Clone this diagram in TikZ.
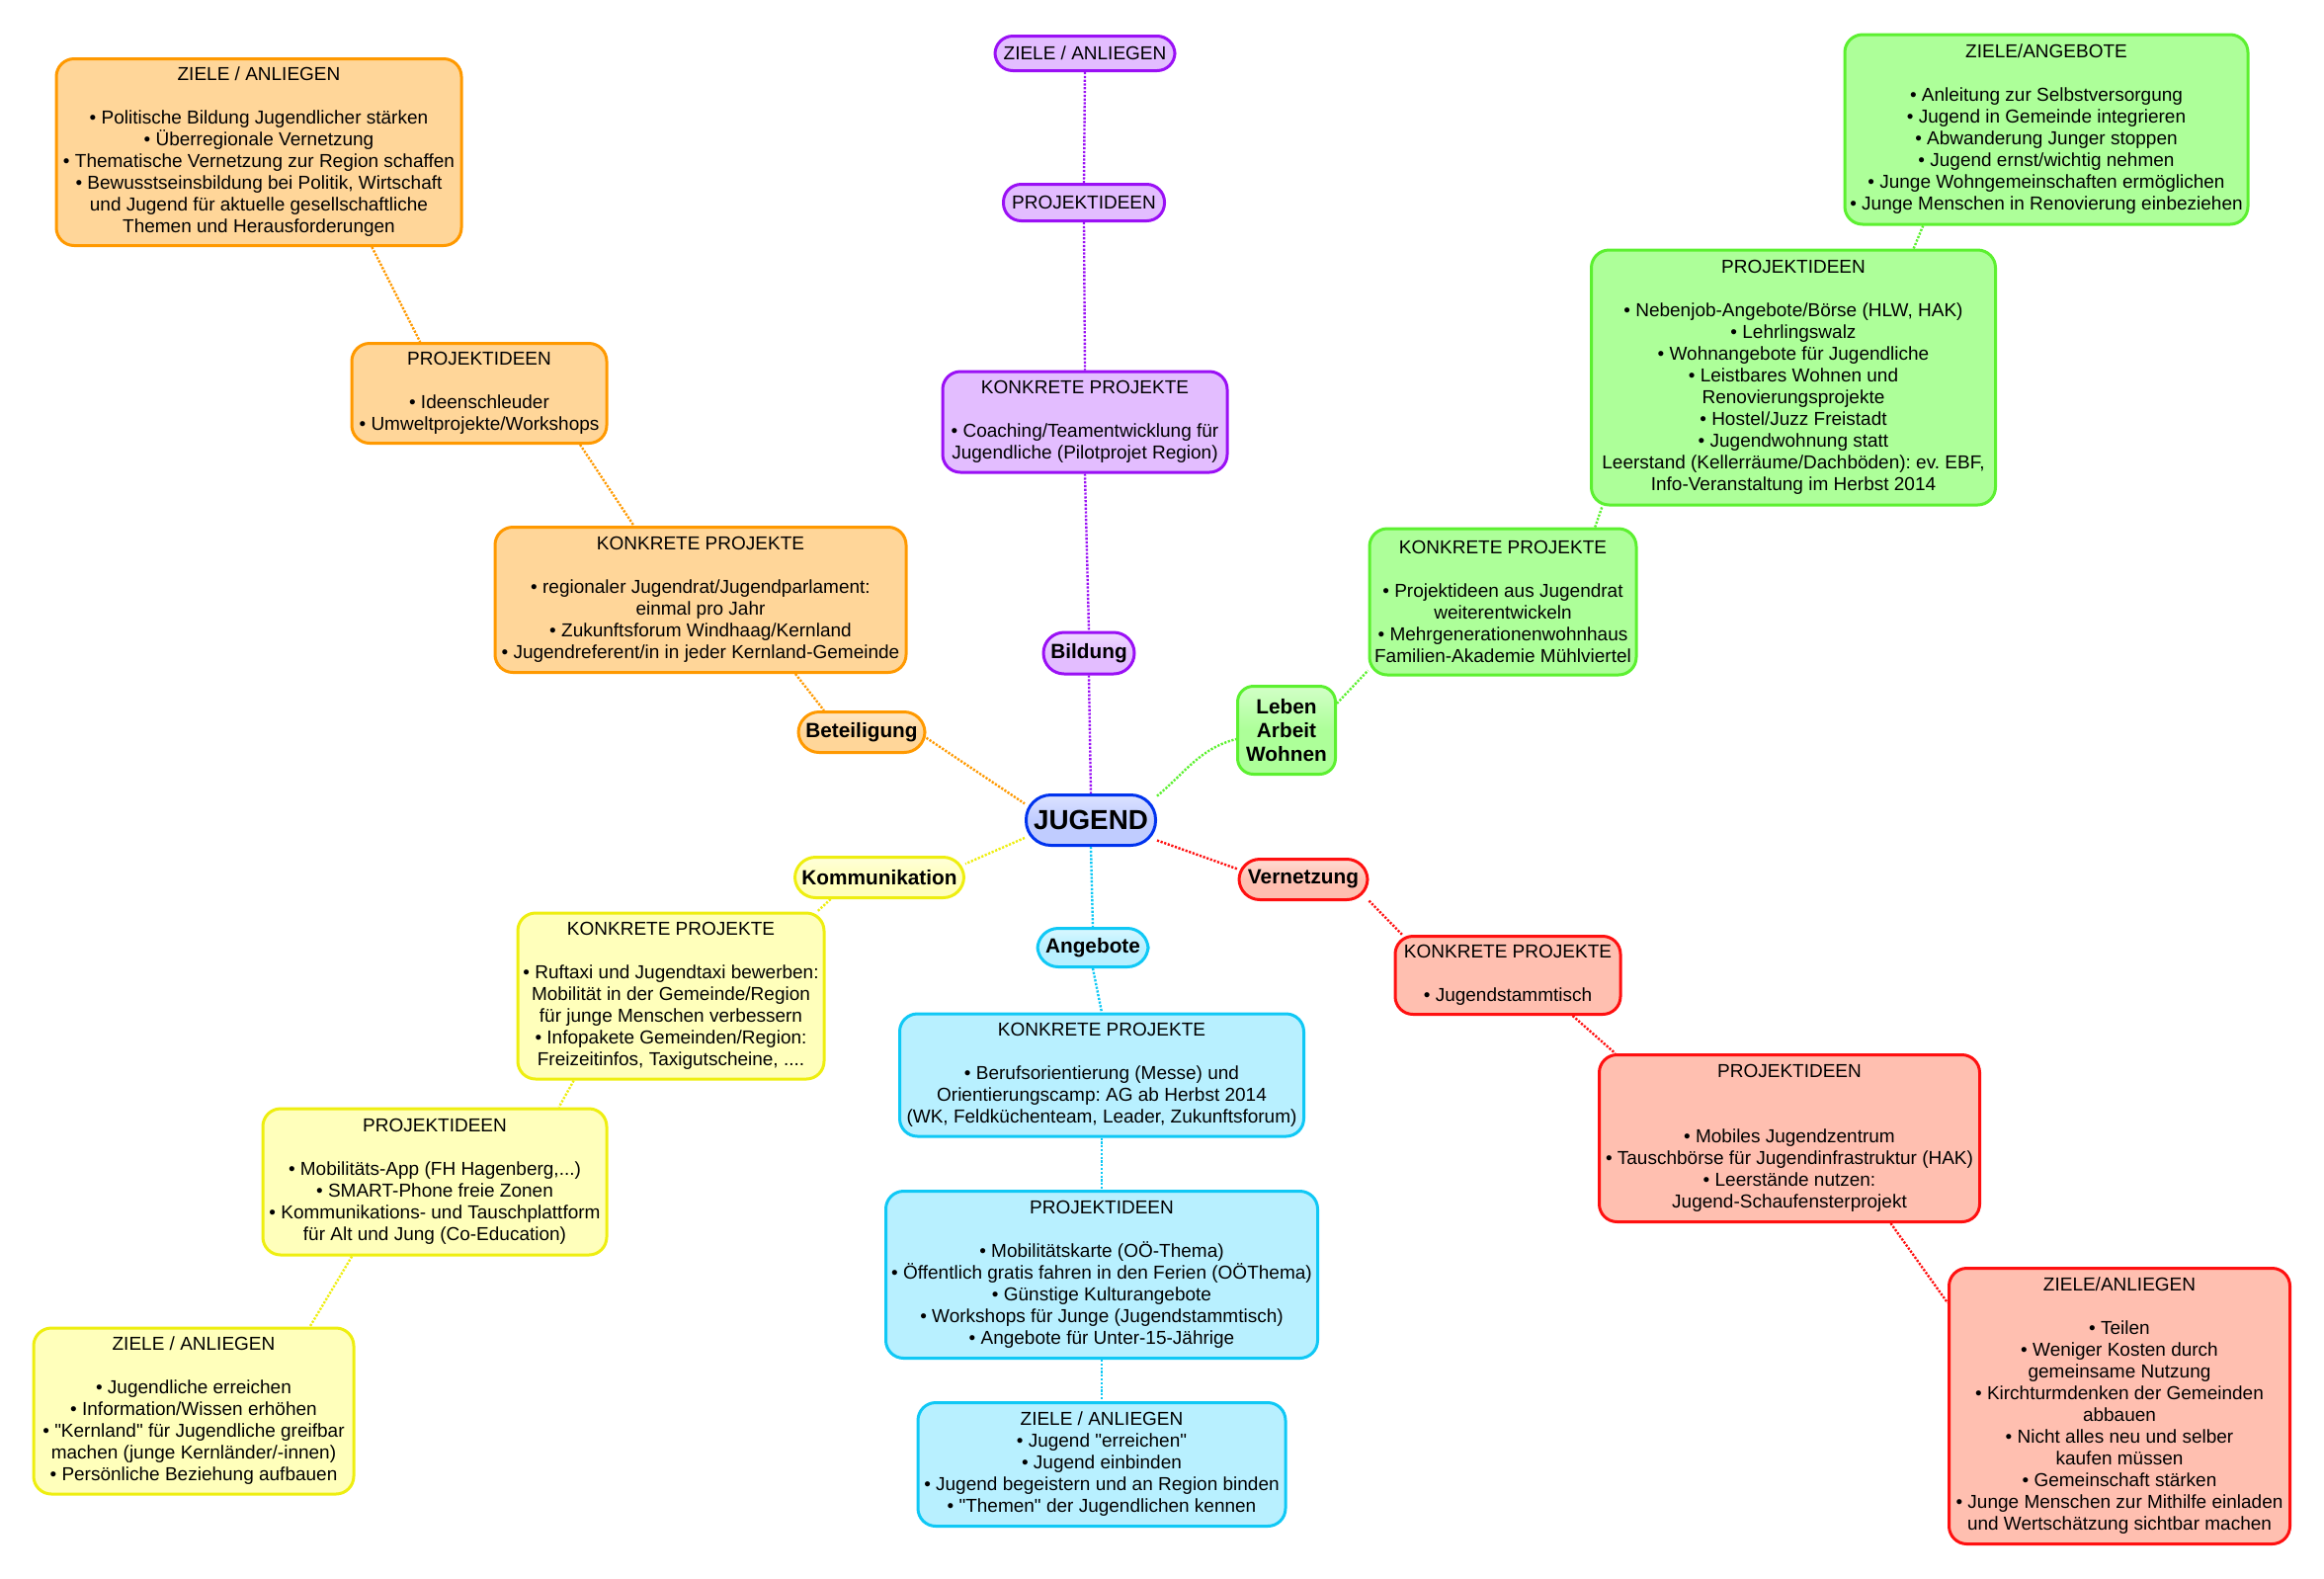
\documentclass[tikz,border=0pt]{standalone}
\usepackage{fontspec}
\setmainfont{Liberation Sans}[Ligatures=TeXOff]
\definecolor{orB}{HTML}{FF9900}\definecolor{orF}{HTML}{FFD699}
\definecolor{grB}{HTML}{5CF030}\definecolor{grF}{HTML}{ADFF99}
\definecolor{puB}{HTML}{9A10F5}\definecolor{puF}{HTML}{E3BDFF}
\definecolor{reB}{HTML}{FF1010}\definecolor{reF}{HTML}{FFBFB0}
\definecolor{cyB}{HTML}{10C8F5}\definecolor{cyF}{HTML}{B8F0FF}
\definecolor{yeB}{HTML}{EEEE10}\definecolor{yeF}{HTML}{FFFFBB}
\definecolor{juB}{HTML}{0033EE}\definecolor{juF}{HTML}{C0CCFF}
\tikzset{
  box/.style n args={4}{draw=#1, fill=#2, line width=1.5pt, rounded corners=9pt,
    align=center, inner sep=1pt, minimum width=#3, minimum height=#4,
    font=\fontsize{9.5}{11}\selectfont},
  cat/.style n args={4}{draw=#1, top color=#2!55!white, bottom color=#2, middle color=#2, line width=1.5pt,
    rounded corners=10.5pt, align=center, inner sep=1pt, minimum width=#3, minimum height=#4,
    font=\fontsize{10.4}{11.8}\selectfont\bfseries},
  conn/.style={draw=#1, line width=1.2pt, dash pattern=on 1.1pt off 0.8pt},
}
\frenchspacing
\begin{document}
\frenchspacing
\begin{tikzpicture}[x=0.5pt,y=0.5pt]
\useasboundingbox (0,0) rectangle (2352,-1597);
% ---------- centre
\node[cat={juB}{juF}{65.5pt}{25.5pt}, rounded corners=12.5pt, font=\fontsize{13.9}{16}\selectfont\bfseries] (jug) at (1104,-830) {JUGEND};
% ---------- orange
\node[box={orB}{orF}{205pt}{94.5pt}] (oz) at (262,-154) {ZIELE / ANLIEGEN\\[11pt]
• Politische Bildung Jugendlicher stärken\\
• Überregionale Vernetzung\\
• Thematische Vernetzung zur Region schaffen\\
• Bewusstseinsbildung bei Politik, Wirtschaft\\
und Jugend für aktuelle gesellschaftliche\\
Themen und Herausforderungen};
\node[box={orB}{orF}{129pt}{50.5pt}] (op) at (485,-398) {PROJEKTIDEEN\\[11pt]
• Ideenschleuder\\
• Umweltprojekte/Workshops};
\node[box={orB}{orF}{208pt}{73.5pt}] (ok) at (709,-607) {KONKRETE PROJEKTE\\[11pt]
• regionaler Jugendrat/Jugendparlament:\\
einmal pro Jahr\\
• Zukunftsforum Windhaag/Kernland\\
• Jugendreferent/in in jeder Kernland-Gemeinde};
\node[cat={orB}{orF}{64pt}{20.5pt}] (bet) at (872,-741) {Beteiligung};
% ---------- purple
\node[box={puB}{puF}{91pt}{17.5pt}] (pz) at (1098,-54) {ZIELE / ANLIEGEN};
\node[box={puB}{puF}{81.5pt}{18.5pt}] (pp) at (1097,-205) {PROJEKTIDEEN};
\node[box={puB}{puF}{144pt}{51pt}] (pk) at (1098,-427) {KONKRETE PROJEKTE\\[11pt]
• Coaching/Teamentwicklung für\\
Jugendliche (Pilotprojet Region)};
\node[cat={puB}{puF}{46pt}{21pt}] (bil) at (1102,-661) {Bildung};
% ---------- green
\node[cat={grB}{grF}{49.5pt}{44.5pt}, rounded corners=8pt] (leb) at (1302,-739) {Leben\\Arbeit\\Wohnen};
\node[box={grB}{grF}{135pt}{74pt}] (gk) at (1521,-609) {KONKRETE PROJEKTE\\[11pt]
• Projektideen aus Jugendrat\\
weiterentwickeln\\
• Mehrgenerationenwohnhaus\\
Familien-Akademie Mühlviertel};
\node[box={grB}{grF}{204.5pt}{129pt}] (gp) at (1815,-382) {PROJEKTIDEEN\\[11pt]
• Nebenjob-Angebote/Börse (HLW, HAK)\\
• Lehrlingswalz\\
• Wohnangebote für Jugendliche\\
• Leistbares Wohnen und\\
Renovierungsprojekte\\
• Hostel/Juzz Freistadt\\
• Jugendwohnung statt\\
Leerstand (Kellerräume/Dachböden): ev. EBF,\\
Info-Veranstaltung im Herbst 2014};
\node[box={grB}{grF}{204pt}{96pt}] (gz) at (2071,-131) {ZIELE/ANGEBOTE\\[11pt]
• Anleitung zur Selbstversorgung\\
• Jugend in Gemeinde integrieren\\
• Abwanderung Junger stoppen\\
• Jugend ernst/wichtig nehmen\\
• Junge Wohngemeinschaften ermöglichen\\
• Junge Menschen in Renovierung einbeziehen};
% ---------- red
\node[cat={reB}{reF}{65pt}{20.5pt}] (ver) at (1319,-890) {Vernetzung};
\node[box={reB}{reF}{114pt}{39.5pt}] (rk) at (1526,-987) {KONKRETE PROJEKTE\\[11pt]
• Jugendstammtisch};
\node[box={reB}{reF}{192.5pt}{84.5pt}] (rp) at (1811,-1152) {PROJEKTIDEEN\\[22pt]
• Mobiles Jugendzentrum\\
• Tauschbörse für Jugendinfrastruktur (HAK)\\
• Leerstände nutzen:\\
Jugend-Schaufensterprojekt};
\node[box={reB}{reF}{172.5pt}{139.5pt}] (rz) at (2145,-1423) {ZIELE/ANLIEGEN\\[11pt]
• Teilen\\
• Weniger Kosten durch\\
gemeinsame Nutzung\\
• Kirchturmdenken der Gemeinden\\
abbauen\\
• Nicht alles neu und selber\\
kaufen müssen\\
• Gemeinschaft stärken\\
• Junge Menschen zur Mithilfe einladen\\
und Wertschätzung sichtbar machen};
% ---------- cyan
\node[cat={cyB}{cyF}{56pt}{19.5pt}] (ang) at (1106,-959) {Angebote};
\node[box={cyB}{cyF}{204.5pt}{62pt}] (ck) at (1115,-1088) {KONKRETE PROJEKTE\\[11pt]
• Berufsorientierung (Messe) und\\
Orientierungscamp: AG ab Herbst 2014\\
(WK, Feldküchenteam, Leader, Zukunftsforum)};
\node[box={cyB}{cyF}{218.5pt}{84.5pt}] (cp) at (1115,-1290) {PROJEKTIDEEN\\[11pt]
• Mobilitätskarte (OÖ-Thema)\\
• Öffentlich gratis fahren in den Ferien (OÖThema)\\
• Günstige Kulturangebote\\
• Workshops für Junge (Jugendstammtisch)\\
• Angebote für Unter-15-Jährige};
\node[box={cyB}{cyF}{186pt}{62.5pt}] (cz) at (1115,-1482) {ZIELE / ANLIEGEN\\
• Jugend "erreichen"\\
• Jugend einbinden\\
• Jugend begeistern und an Region binden\\
• "Themen" der Jugendlichen kennen};
% ---------- yellow
\node[cat={yeB}{yeF}{85.5pt}{20.5pt}] (kom) at (890,-888) {Kommunikation};
\node[box={yeB}{yeF}{155pt}{84pt}] (yk) at (679,-1008) {KONKRETE PROJEKTE\\[11pt]
• Ruftaxi und Jugendtaxi bewerben:\\
Mobilität in der Gemeinde/Region\\
für junge Menschen verbessern\\
• Infopakete Gemeinden/Region:\\
Freizeitinfos, Taxigutscheine, ....};
\node[box={yeB}{yeF}{174pt}{74pt}] (yp) at (440,-1196) {PROJEKTIDEEN\\[11pt]
• Mobilitäts-App (FH Hagenberg,...)\\
• SMART-Phone freie Zonen\\
• Kommunikations- und Tauschplattform\\
für Alt und Jung (Co-Education)};
\node[box={yeB}{yeF}{162pt}{84pt}] (yz) at (196,-1428) {ZIELE / ANLIEGEN\\[11pt]
• Jugendliche erreichen\\
• Information/Wissen erhöhen\\
• "Kernland" für Jugendliche greifbar\\
machen (junge Kernländer/-innen)\\
• Persönliche Beziehung aufbauen};
% ---------- connectors
\draw[conn=orB] (oz.-40) -- (op.139);
\draw[conn=orB] (op.-27) -- (ok.132);
\draw[conn=orB] (ok.-38) -- (bet.150);
\draw[conn=orB] (bet.-5) -- (jug.166);
\draw[conn=puB] (pz.south) -- (pp.north);
\draw[conn=puB] (pp.south) -- (pk.north);
\draw[conn=puB] (pk.south) -- (bil.north);
\draw[conn=puB] (bil.south) -- (jug.north);
\draw[conn=grB] (jug.20) to[out=40,in=195] (leb.-170);
\draw[conn=grB] (leb.28) -- (gk.-153);
\draw[conn=grB] (gk.39) -- (gp.-146);
\draw[conn=grB] (gp.47) -- (gz.-142);
\draw[conn=reB] (jug.-17) -- (ver.171);
\draw[conn=reB] (ver.-18) -- (rk.159);
\draw[conn=reB] (rk.-32) -- (rp.154);
\draw[conn=reB] (rp.-40) -- (rz.149);
\draw[conn=cyB] (jug.south) -- (ang.north);
\draw[conn=cyB] (ang.south) -- (ck.north);
\draw[conn=cyB] (ck.south) -- (cp.north);
\draw[conn=cyB] (cp.south) -- (cz.north);
\draw[conn=yeB] (jug.-165) -- (kom.9);
\draw[conn=yeB] (kom.-156) -- (yk.30);
\draw[conn=yeB] (yk.-139) -- (yp.31);
\draw[conn=yeB] (yp.-138) -- (yz.36);
\end{tikzpicture}
\end{document}
